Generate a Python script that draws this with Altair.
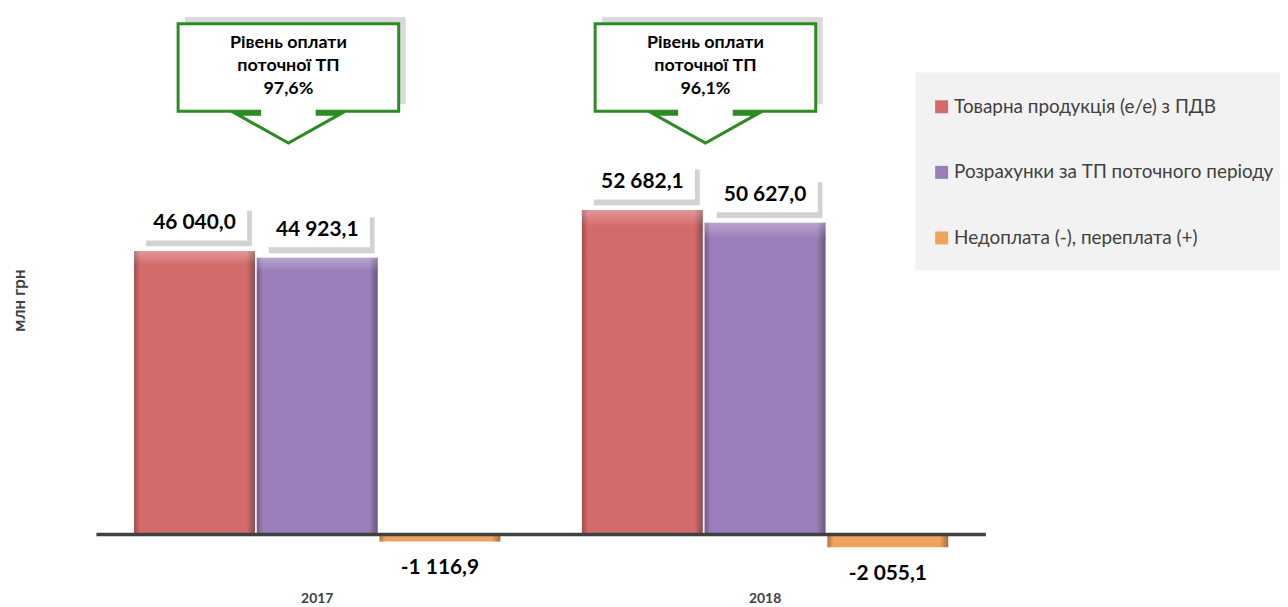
import altair as alt
import pandas as pd

# ---------------- data ----------------
years = ["2017", "2018"]
series = [
    "Товарна продукція (е/е) з ПДВ",
    "Розрахунки за ТП поточного періоду",
    "Недоплата (-), переплата (+)",
]
values_tp = [46040.0, 52682.1]
values_paid = [44923.1, 50627.0]
values_diff = [-1116.9, -2055.1]
callout_text = ["Рівень оплати\nпоточної ТП\n97,6%", "Рівень оплати\nпоточної ТП\n96,1%"]
y_title = "млн грн"

colors = ["#D46B6B", "#9A7EBA", "#F0A35E"]
FONT = "Lato"


def fmt(v):
    return f"{v:,.1f}".replace(",", " ").replace(".", ",")


rows = []
for i, yr in enumerate(years):
    for s, vals in zip(series, [values_tp, values_paid, values_diff]):
        rows.append({"year": yr, "series": s, "value": vals[i], "label": fmt(vals[i])})
df = pd.DataFrame(rows)
df_callout = pd.DataFrame({"year": years, "text": callout_text})

# ---------------- scales ----------------
x_scale = alt.Scale(domain=years, paddingInner=0.182, paddingOuter=0.084)
xo_scale = alt.Scale(domain=series, paddingInner=0.015)
y_scale = alt.Scale(domain=[-7903, 84839], nice=False, zero=False)

X = alt.X(
    "year:N",
    scale=x_scale,
    axis=alt.Axis(
        title=None, domain=False, ticks=False, labelAngle=0, labelFontSize=14,
        labelFontWeight="bold", labelColor="#404040", labelPadding=8, labelFont=FONT,
    ),
)
XO = alt.XOffset("series:N", scale=xo_scale)
Y = alt.Y(
    "value:Q",
    scale=y_scale,
    axis=alt.Axis(
        labels=False, ticks=False, domain=False, grid=False, title=y_title,
        titleFontSize=17, titleFontWeight="bold", titleColor="#404040", titleFont=FONT,
        titleAngle=270, titleX=-77, titleY=290, titleAlign="center", titleBaseline="middle",
    ),
)

base = alt.Chart(df)

legend_bg = alt.Chart(pd.DataFrame({"a": [0]})).mark_rect(color="#f2f2f2").encode(
    x=alt.value(824), x2=alt.value(1195), y=alt.value(61), y2=alt.value(260)
)

bars = base.mark_bar().encode(
    x=X, xOffset=XO, y=Y,
    color=alt.Color(
        "series:N",
        scale=alt.Scale(domain=series, range=colors),
        legend=alt.Legend(
            orient="none", legendX=841, legendY=86, title=None, symbolType="square",
            symbolSize=170, symbolStrokeWidth=0, labelFontSize=19, labelColor="#404040",
            labelFont=FONT, rowPadding=46, labelOffset=3, padding=0, labelLimit=400,
        ),
    ),
)

side_shade = base.mark_bar(
    fill=alt.LinearGradient(
        gradient="linear", x1=0, y1=0, x2=1, y2=0,
        stops=[
            alt.GradientStop(color="rgba(0,0,0,0.28)", offset=0),
            alt.GradientStop(color="rgba(0,0,0,0)", offset=0.05),
            alt.GradientStop(color="rgba(0,0,0,0)", offset=0.93),
            alt.GradientStop(color="rgba(0,0,0,0.32)", offset=1),
        ],
    )
).encode(x=X, xOffset=XO, y=Y)

top_shine = base.mark_bar(
    fill=alt.LinearGradient(
        gradient="linear", x1=0, y1=0, x2=0, y2=1,
        stops=[
            alt.GradientStop(color="rgba(255,255,255,0.30)", offset=0),
            alt.GradientStop(color="rgba(255,255,255,0.12)", offset=0.03),
            alt.GradientStop(color="rgba(255,255,255,0)", offset=0.05),
            alt.GradientStop(color="rgba(255,255,255,0)", offset=1),
        ],
    )
).encode(x=X, xOffset=XO, y=Y).transform_filter("datum.value > 0")

baseline = alt.Chart(pd.DataFrame({"v": [0]})).mark_rule(color="#404040", strokeWidth=3.5).encode(
    y=alt.Y("v:Q", scale=y_scale)
)

# value label boxes (positive values)
box_path = "M-1,-0.33L1,-0.33L1,0.33L-1,0.33Z"
shadow_path = "M-0.92,-0.24L1.09,-0.24L1.09,0.44L-0.92,0.44Z"
pos = base.transform_filter("datum.value > 0")
box_shadow = pos.mark_point(
    shape=shadow_path, size=11236, filled=True, fill="#d2d2d2", opacity=1, strokeWidth=0, yOffset=-28
).encode(x=X, xOffset=XO, y=Y)
box = pos.mark_point(
    shape=box_path, size=11236, filled=True, fill="white", opacity=1, strokeWidth=0, yOffset=-28
).encode(x=X, xOffset=XO, y=Y)
pos_text = pos.mark_text(
    fontSize=21, fontWeight="bold", font=FONT, color="black", dy=-28, baseline="middle"
).encode(x=X, xOffset=XO, y=Y, text="label:N")
neg_text = base.transform_filter("datum.value < 0").mark_text(
    fontSize=21, fontWeight="bold", font=FONT, color="black", dy=27, baseline="middle"
).encode(x=X, xOffset=XO, y=Y, text="label:N")

# callouts
callout_path = (
    "M-1,-0.396L1,-0.396L1,0.396L0.261,0.396L0.261,0.423L0.468,0.423L0,0.685"
    "L-0.468,0.423L-0.261,0.423L-0.261,0.396L-1,0.396Z"
)
callout_shadow_path = "M-0.937,-0.459L1.063,-0.459L1.063,0.333L-0.937,0.333Z"
callout_dx = [-29, -60]
callout_layers = []
for yr, dx in zip(years, callout_dx):
    cdat = alt.Chart(df_callout).transform_filter(alt.datum.year == yr)
    callout_layers.append(
        cdat.mark_point(
            shape=callout_shadow_path, size=49284, filled=True, fill="#dadada",
            opacity=1, strokeWidth=0, xOffset=dx,
        ).encode(x=X, y=alt.value(56))
    )
    callout_layers.append(
        cdat.mark_point(
            shape=callout_path, size=49284, filled=True, fill="white", opacity=1,
            stroke="#2A8C22", strokeWidth=3, strokeOpacity=1, strokeJoin="miter", xOffset=dx,
        ).encode(x=X, y=alt.value(56))
    )
    callout_layers.append(
        cdat.mark_text(
            fontSize=18, fontWeight="bold", font=FONT, color="black", lineBreak="\n",
            lineHeight=23.5, baseline="middle", align="center", dx=dx,
        ).encode(x=X, y=alt.value(31), text="text:N")
    )

chart = alt.layer(
    legend_bg, bars, side_shade, top_shine, baseline, box_shadow, box, pos_text, neg_text,
    *callout_layers,
).properties(
    width=895, height=575,
    autosize=alt.AutoSizeParams(type="none"),
    padding={"left": 89, "top": 2, "right": 296, "bottom": 22},
).configure(font=FONT).configure_view(stroke=None)

chart.save("out.html", embed_options={"renderer": "svg", "actions": False})
